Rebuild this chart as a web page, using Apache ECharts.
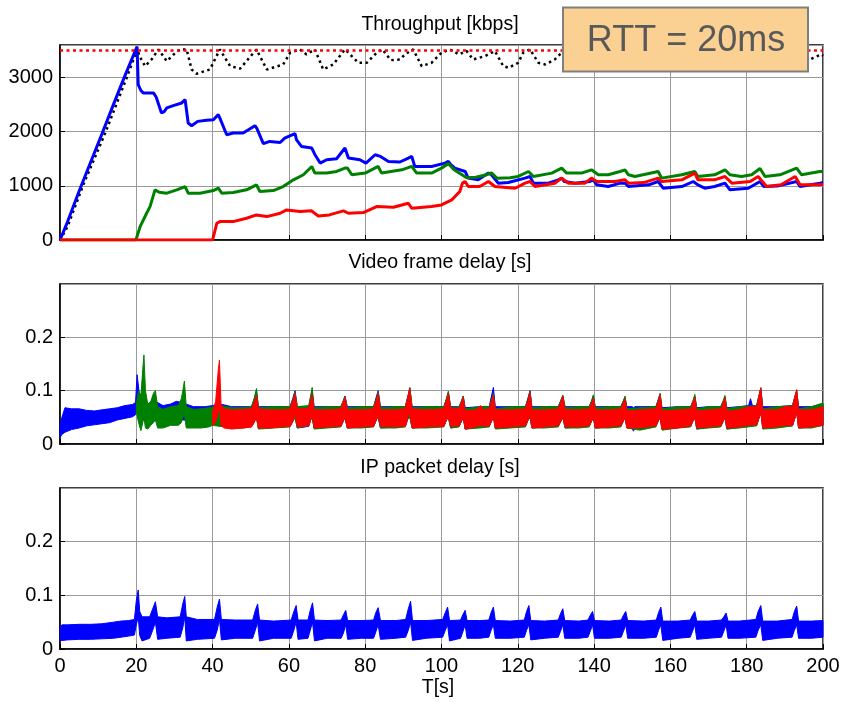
<!DOCTYPE html>
<html>
<head>
<meta charset="utf-8">
<script src="https://cdn.jsdelivr.net/npm/echarts@6/dist/echarts.min.js"></script>
<style>html,body{margin:0;padding:0;background:#fff}#c{width:843px;height:702px}</style>
</head>
<body>
<div id="c"></div>
<script>
// ---------- Throughput [kbps]: [t, value] ----------
const tpBlue = [[0,0],[2,340],[5,900],[8,1430],[11,1960],[14,2500],[17,3030],[20.2,3570],
[20.5,2870],[21.2,2760],[21.8,2716],[24.5,2716],[25.2,2640],[26.6,2346],[27.3,2370],[28,2438],[29.7,2480],[31.9,2530],[32.8,2590],[33.6,2160],[34.5,2110],[36.1,2190],[38.4,2210],[40.2,2220],[41.5,2315],[41.9,2250],[43.7,1944],[45.4,1975],[48,1975],[51.1,2110],[51.6,2060],[53.3,1778],[55,1820],[57.7,1800],[58.9,1880],[61.6,1963],[62,1850],[63.3,1728],[66,1698],[66.8,1580],[68.2,1420],[69.9,1481],[72.5,1500],[74.7,1698],[75.6,1512],[78.6,1481],[80.2,1420],[82.6,1574],[84,1543],[86.1,1450],[89.1,1440],[91.3,1512],[92.2,1543],[93,1358],[97.4,1358],[100.9,1420],[101.8,1450],[102.3,1400],[103.5,1327],[106.2,1265],[107,1142],[109.6,1111],[112.3,1235],[113.1,1204],[114.9,1049],[117.5,1062],[121.9,1142],[123.2,1173],[124.1,1049],[128,1049],[130.6,1111],[131.5,1142],[132.2,1080],[135,1049],[138.9,1080],[139.8,1111],[140.7,1018],[143.7,987],[146.8,1049],[148.1,1049],[149,987],[154.3,1018],[156.8,1080],[158.1,956],[163,987],[166,1080],[167.2,1018],[169,956],[171.6,987],[174.3,1049],[175.6,926],[180.4,956],[183.5,1080],[184.5,987],[188,995],[193.1,1080],[194,987],[199.2,1049],[200,1060]];
const tpGreen = [[0,0],[19.9,0],[21,247],[22.7,494],[23.6,617],[24.9,926],[26,880],[28,864],[30.6,926],[32.8,987],[33.6,864],[36.7,864],[40.2,913],[41.5,956],[42.4,864],[45.4,876],[48.9,926],[51.5,1018],[52.4,895],[55.9,913],[58.5,987],[61.2,1111],[63.8,1204],[66,1358],[66.8,1235],[69.9,1235],[72.5,1265],[74.7,1327],[75.3,1330],[76.5,1204],[80,1235],[83.4,1358],[84.3,1235],[89.6,1296],[92.2,1358],[93.5,1235],[97.4,1235],[100,1327],[101.8,1410],[103.3,1296],[106.6,1150],[109,1160],[111.8,1204],[113.1,1240],[114.5,1142],[118,1150],[120.1,1173],[122.8,1265],[124.1,1173],[128.9,1235],[131.5,1327],[132.8,1235],[136.7,1235],[139.3,1296],[141.1,1204],[143.7,1204],[146.8,1265],[148.1,1296],[149,1204],[150.7,1173],[156.8,1265],[157.7,1142],[163,1204],[166.4,1265],[167.2,1173],[171.6,1204],[174.3,1296],[175.6,1204],[178.6,1173],[181.3,1204],[183.5,1320],[184.8,1173],[188.7,1204],[193.1,1327],[194.4,1204],[199.2,1265],[200,1265]];
const tpRed = [[0,0],[40,0],[41.1,309],[41.9,340],[45.4,340],[48.9,401],[51.5,463],[54.2,432],[57.7,494],[59.4,555],[62.9,525],[65.9,540],[67.7,444],[70.6,463],[74.3,537],[75.6,494],[79.5,506],[83,617],[87.4,605],[91.3,679],[92.2,586],[97.4,617],[100,648],[102.7,741],[104.8,895],[105.5,1050],[106.2,1080],[107,987],[110,987],[112.3,1080],[114,987],[119.3,956],[121.9,1049],[123.2,1080],[124.5,987],[129.7,1049],[131.5,1142],[133.3,1049],[137.6,1049],[139.3,1142],[140.7,1080],[145.5,1080],[148.1,1111],[149,1049],[153,1060],[156.8,1142],[157.7,1080],[163,1111],[166.4,1235],[167.2,1111],[171.6,1111],[174.3,1173],[176.1,1049],[180.9,1080],[183,1173],[185.2,987],[189,1020],[192.7,1173],[194,1018],[199.2,1018],[200,1030]];
const tpTotal = [[0,0],[2,250],[6,1000],[12,2000],[17.5,3000],[20.3,3530],[20.8,3400],[22.3,3210],[24,3333],[25.8,3518],[28,3302],[29.8,3426],[31.5,3518],[33.2,3518],[34.5,3148],[35.8,3070],[39.3,3148],[41.9,3518],[44.6,3210],[47.2,3164],[51.5,3518],[54.2,3148],[58.5,3240],[60.3,3457],[62.9,3518],[64.6,3426],[66.8,3518],[69,3148],[71.6,3240],[74.7,3518],[76.9,3364],[78.2,3272],[80.4,3272],[83,3457],[84.5,3518],[86.7,3320],[89.1,3333],[90.4,3426],[92.6,3518],[94.8,3210],[97.4,3272],[100,3457],[102.2,3518],[104.6,3426],[106.6,3488],[108.3,3333],[111.4,3395],[114,3488],[116.2,3210],[117.6,3179],[120.1,3272],[121.4,3457],[123.2,3518],[125.4,3272],[127.2,3240],[129.7,3333],[131.5,3457],[133,3500],[136,3300],[140,3420],[142,3500],[145,3300],[149,3480],[152,3320],[157,3500],[160,3300],[166,3500],[169,3280],[174,3480],[177,3300],[183,3500],[186,3300],[193,3500],[195.5,3300],[197.5,3364],[199.6,3426],[200,3400]];
const capacity = [[0,3500],[200,3500]];

// ---------- Video frame delay [s]: [t, low, high] envelope ----------
const vfBlue = [[0,0.012,0.035],[0.5,0.018,0.05],[1.3,0.022,0.068],[3,0.027,0.066],[5,0.03,0.066],[7,0.034,0.063],[9,0.036,0.062],[11,0.038,0.064],[13,0.04,0.066],[15,0.045,0.068],[17,0.048,0.072],[19,0.051,0.074],[19.8,0.055,0.078],[20.2,0.07,0.13],[20.7,0.05,0.1],[21.5,0.045,0.08],[23,0.045,0.075],[25,0.05,0.08],[27,0.045,0.072],[29,0.045,0.075],[30.5,0.05,0.08],[32,0.045,0.078],[33,0.045,0.075],[35,0.04,0.07],[38,0.04,0.07],[40,0.04,0.072],[42,0.035,0.075],[45,0.032,0.07],[48,0.032,0.07],[50.2,0.033,0.07],[50.9,0.042,0.085],[51.5,0.05,0.1],[52,0.03,0.07],[56,0.032,0.07],[60.3,0.033,0.07],[61,0.042,0.085],[61.6,0.05,0.1],[62.2,0.03,0.07],[65.2,0.033,0.07],[65.7,0.045,0.088],[66.1,0.05,0.1],[66.6,0.03,0.07],[70,0.032,0.07],[73.6,0.033,0.07],[74.2,0.042,0.08],[74.7,0.05,0.09],[75.3,0.03,0.07],[79,0.032,0.07],[82.2,0.033,0.07],[82.9,0.045,0.088],[83.4,0.05,0.1],[84,0.03,0.07],[88,0.032,0.07],[90.5,0.033,0.07],[91.2,0.048,0.09],[91.7,0.05,0.105],[92.3,0.03,0.07],[96,0.032,0.07],[100.6,0.033,0.07],[101.3,0.045,0.085],[101.8,0.05,0.097],[102.4,0.03,0.07],[104.6,0.033,0.07],[105.2,0.042,0.08],[105.7,0.05,0.09],[106.2,0.028,0.068],[110,0.032,0.07],[112.5,0.033,0.07],[113.1,0.045,0.09],[113.6,0.06,0.106],[114.1,0.03,0.07],[118,0.032,0.07],[122,0.033,0.07],[122.7,0.045,0.087],[123.2,0.05,0.1],[123.7,0.03,0.07],[127,0.032,0.07],[130.6,0.033,0.07],[131.3,0.043,0.082],[131.8,0.05,0.09],[132.4,0.03,0.07],[136,0.032,0.07],[138.7,0.033,0.07],[139.3,0.042,0.08],[139.8,0.05,0.09],[140.3,0.03,0.07],[144,0.032,0.07],[147,0.033,0.07],[147.6,0.042,0.08],[148.1,0.05,0.087],[148.6,0.03,0.07],[150,0.03,0.07],[150.3,0.024,0.068],[150.7,0.03,0.07],[156.2,0.033,0.07],[156.8,0.043,0.083],[157.3,0.05,0.094],[157.8,0.028,0.068],[162,0.032,0.07],[165.3,0.033,0.07],[165.9,0.043,0.08],[166.4,0.05,0.09],[166.9,0.028,0.068],[170,0.032,0.07],[173.2,0.033,0.07],[173.8,0.042,0.08],[174.3,0.05,0.088],[174.8,0.028,0.068],[178,0.032,0.07],[180.5,0.035,0.072],[181,0.04,0.085],[181.5,0.035,0.072],[182.6,0.035,0.072],[183.2,0.048,0.09],[183.7,0.06,0.104],[184.2,0.03,0.07],[188,0.032,0.07],[192,0.034,0.072],[192.6,0.048,0.088],[193.1,0.06,0.1],[193.6,0.03,0.07],[197,0.032,0.07],[200,0.035,0.075]];
const vfGreen = [[20,0.06,0.075],[20.6,0.04,0.1],[21.2,0.025,0.09],[21.7,0.04,0.14],[22,0.05,0.167],[22.4,0.03,0.1],[23,0.028,0.075],[23.8,0.035,0.08],[24.5,0.04,0.095],[25,0.045,0.1],[25.6,0.03,0.07],[27,0.03,0.065],[29,0.035,0.07],[31,0.035,0.072],[31.8,0.04,0.085],[32.2,0.05,0.1],[32.6,0.055,0.118],[33.1,0.03,0.07],[35,0.03,0.065],[37,0.03,0.066],[39,0.032,0.068],[40,0.035,0.07],[42,0.033,0.072],[45,0.03,0.068],[48,0.03,0.068],[50.2,0.032,0.07],[50.9,0.042,0.085],[51.5,0.05,0.104],[52,0.028,0.068],[56,0.03,0.07],[60.3,0.032,0.07],[61,0.042,0.082],[61.6,0.05,0.098],[62.2,0.03,0.07],[65.2,0.034,0.072],[65.7,0.045,0.09],[66.1,0.05,0.106],[66.6,0.028,0.068],[70,0.03,0.07],[73.6,0.032,0.07],[74.2,0.042,0.08],[74.7,0.05,0.09],[75.3,0.03,0.068],[79,0.03,0.07],[82.2,0.032,0.07],[82.9,0.045,0.085],[83.4,0.05,0.098],[84,0.03,0.068],[88,0.03,0.07],[90.5,0.032,0.07],[91.2,0.048,0.09],[91.7,0.05,0.106],[92.3,0.03,0.068],[96,0.03,0.07],[100.6,0.032,0.07],[101.3,0.045,0.085],[101.8,0.05,0.099],[102.4,0.03,0.068],[104.6,0.032,0.07],[105.2,0.042,0.08],[105.7,0.05,0.09],[106.2,0.028,0.066],[110,0.03,0.07],[112.5,0.032,0.07],[113.1,0.042,0.082],[113.6,0.05,0.095],[114.1,0.028,0.066],[118,0.03,0.07],[122,0.032,0.07],[122.7,0.045,0.085],[123.2,0.05,0.099],[123.7,0.03,0.068],[127,0.03,0.07],[130.6,0.032,0.07],[131.3,0.043,0.082],[131.8,0.05,0.092],[132.4,0.03,0.068],[136,0.03,0.07],[138.7,0.032,0.07],[139.3,0.042,0.08],[139.8,0.05,0.092],[140.3,0.03,0.068],[144,0.03,0.07],[147,0.032,0.07],[147.6,0.042,0.08],[148.1,0.05,0.09],[148.6,0.03,0.066],[152,0.026,0.068],[156.2,0.032,0.07],[156.8,0.043,0.082],[157.3,0.05,0.095],[157.8,0.026,0.066],[162,0.03,0.07],[165.3,0.032,0.07],[165.9,0.043,0.08],[166.4,0.05,0.093],[166.9,0.028,0.066],[170,0.03,0.07],[173.2,0.032,0.07],[173.8,0.042,0.08],[174.3,0.05,0.091],[174.8,0.028,0.066],[178,0.03,0.07],[182.6,0.034,0.072],[183.2,0.048,0.09],[183.7,0.06,0.105],[184.2,0.028,0.066],[188,0.03,0.07],[192,0.034,0.072],[192.6,0.048,0.088],[193.1,0.06,0.1],[193.6,0.03,0.066],[197,0.03,0.07],[200,0.035,0.077]];
const vfRed = [[40,0.035,0.06],[40.8,0.04,0.08],[41.5,0.06,0.14],[41.8,0.07,0.157],[42.2,0.035,0.075],[43,0.03,0.066],[45,0.028,0.064],[48,0.03,0.065],[50.2,0.032,0.066],[50.9,0.04,0.078],[51.5,0.05,0.092],[52,0.03,0.066],[55,0.03,0.064],[58,0.032,0.064],[60.3,0.033,0.066],[61,0.042,0.08],[61.6,0.055,0.095],[62.2,0.032,0.066],[64,0.033,0.066],[65.2,0.035,0.068],[65.7,0.045,0.082],[66.1,0.055,0.094],[66.6,0.03,0.064],[70,0.032,0.064],[73.6,0.033,0.066],[74.2,0.042,0.078],[74.7,0.05,0.088],[75.3,0.03,0.064],[79,0.032,0.064],[82.2,0.033,0.066],[82.9,0.045,0.082],[83.4,0.055,0.095],[84,0.033,0.064],[88,0.032,0.064],[90.5,0.033,0.067],[91.2,0.048,0.088],[91.7,0.06,0.104],[92.3,0.03,0.066],[96,0.032,0.064],[100.6,0.033,0.066],[101.3,0.045,0.082],[101.8,0.05,0.095],[102.4,0.033,0.066],[104.6,0.034,0.067],[105.2,0.042,0.078],[105.7,0.05,0.088],[106.2,0.028,0.062],[109,0.032,0.064],[110.3,0.035,0.072],[111,0.033,0.064],[112.5,0.034,0.066],[113.1,0.042,0.08],[113.6,0.05,0.092],[114.1,0.03,0.064],[118,0.032,0.064],[122,0.034,0.066],[122.7,0.045,0.084],[123.2,0.055,0.097],[123.7,0.03,0.064],[127,0.032,0.064],[130.6,0.034,0.066],[131.3,0.043,0.08],[131.8,0.05,0.09],[132.4,0.032,0.064],[136,0.032,0.064],[138.7,0.034,0.066],[139.3,0.042,0.076],[139.8,0.05,0.086],[140.3,0.03,0.064],[144,0.032,0.064],[147,0.034,0.066],[147.6,0.042,0.076],[148.1,0.05,0.085],[148.6,0.03,0.062],[152,0.03,0.064],[156.2,0.034,0.066],[156.8,0.043,0.08],[157.3,0.05,0.093],[157.8,0.028,0.062],[162,0.03,0.064],[165.3,0.034,0.066],[165.9,0.043,0.078],[166.4,0.05,0.088],[166.9,0.03,0.062],[170,0.032,0.064],[173.2,0.034,0.066],[173.8,0.042,0.077],[174.3,0.05,0.087],[174.8,0.03,0.062],[178,0.032,0.064],[180.5,0.035,0.07],[182.6,0.036,0.07],[183.2,0.048,0.09],[183.7,0.06,0.106],[184.2,0.03,0.064],[188,0.032,0.064],[190,0.035,0.07],[192,0.035,0.07],[192.6,0.048,0.088],[193.1,0.06,0.102],[193.6,0.03,0.064],[197,0.032,0.064],[200,0.035,0.07]];

// ---------- IP packet delay [s]: [t, low, high] envelope ----------
const ipBlue = [[0,0.015,0.04],[0.5,0.016,0.045],[2,0.017,0.045],[5,0.018,0.046],[8,0.018,0.046],[11,0.019,0.047],[14,0.02,0.05],[16,0.022,0.052],[18,0.024,0.053],[19.5,0.026,0.055],[20,0.045,0.09],[20.5,0.06,0.11],[20.9,0.025,0.07],[21.5,0.015,0.06],[23.5,0.02,0.06],[24.3,0.035,0.075],[25,0.05,0.088],[25.6,0.018,0.06],[28,0.02,0.058],[31.5,0.022,0.06],[32.2,0.04,0.085],[32.7,0.06,0.098],[33.1,0.015,0.06],[36,0.018,0.055],[40.5,0.02,0.055],[41.2,0.035,0.078],[41.8,0.055,0.093],[42.3,0.017,0.055],[46,0.02,0.054],[50.5,0.02,0.054],[51.2,0.035,0.072],[51.8,0.05,0.084],[52.3,0.015,0.054],[56,0.02,0.052],[60.6,0.02,0.054],[61.3,0.035,0.07],[61.9,0.05,0.081],[62.4,0.018,0.054],[65,0.02,0.054],[65.6,0.035,0.072],[66.2,0.05,0.086],[66.7,0.015,0.054],[70,0.02,0.053],[73.7,0.02,0.054],[74.3,0.03,0.064],[74.9,0.045,0.072],[75.4,0.018,0.053],[79,0.02,0.053],[82.2,0.02,0.054],[82.8,0.032,0.068],[83.4,0.045,0.077],[84,0.018,0.053],[88,0.02,0.053],[90.6,0.022,0.055],[91.3,0.035,0.075],[91.9,0.05,0.089],[92.4,0.016,0.053],[96,0.02,0.053],[100.3,0.022,0.055],[101,0.035,0.068],[101.6,0.045,0.078],[102.1,0.015,0.053],[105,0.02,0.054],[105.6,0.032,0.064],[106.2,0.045,0.072],[106.7,0.02,0.053],[110,0.02,0.053],[112.4,0.022,0.054],[113,0.035,0.068],[113.6,0.045,0.078],[114.1,0.02,0.053],[118,0.02,0.052],[121.7,0.022,0.054],[122.3,0.035,0.07],[122.9,0.045,0.081],[123.4,0.017,0.053],[127,0.02,0.052],[130.6,0.022,0.054],[131.2,0.033,0.066],[131.8,0.045,0.075],[132.3,0.02,0.053],[136,0.02,0.052],[138.4,0.022,0.054],[139,0.033,0.063],[139.6,0.045,0.07],[140.1,0.02,0.053],[144,0.02,0.052],[147.1,0.022,0.054],[147.7,0.033,0.063],[148.3,0.045,0.07],[148.8,0.02,0.053],[153,0.02,0.052],[156.3,0.022,0.054],[156.9,0.035,0.068],[157.5,0.045,0.078],[158,0.016,0.052],[162,0.02,0.052],[165.2,0.022,0.054],[165.8,0.033,0.063],[166.4,0.045,0.07],[166.9,0.018,0.052],[170,0.02,0.052],[173.4,0.022,0.054],[174,0.033,0.06],[174.6,0.045,0.067],[175.1,0.02,0.052],[178,0.02,0.052],[182.4,0.022,0.055],[183,0.035,0.07],[183.7,0.045,0.081],[184.2,0.016,0.052],[188,0.02,0.052],[191.9,0.022,0.055],[192.5,0.035,0.07],[193.1,0.045,0.08],[193.6,0.02,0.052],[197,0.02,0.052],[200,0.022,0.053]];

const panelTitles = ['Throughput [kbps]', 'Video frame delay [s]', 'IP packet delay [s]'];
const xLabel = 'T[s]';
const rttText = 'RTT = 20ms';

const FONT = 'Liberation Sans, Arial, Helvetica, sans-serif';
const BLUE = '#0000ff', GREEN = '#008000', RED = '#ff0000';

const grids = [
  {left: 60, right: 20, top: 45, height: 195},
  {left: 60, right: 20, top: 284, height: 160},
  {left: 60, right: 20, top: 488, height: 161}
].map(g => Object.assign(g, {show: true, borderColor: '#000', borderWidth: 1.5, backgroundColor: '#fff', containLabel: false}));

const xAxes = [0,1,2].map(i => ({
  gridIndex: i, type: 'value', min: 0, max: 200, interval: 20,
  axisLine: {show: true, onZero: false, lineStyle: {color: '#000', width: 1.5}},
  axisTick: {show: true, inside: true, length: 5, lineStyle: {color: '#000'}},
  axisLabel: {show: i === 2, color: '#000', fontSize: 20, fontFamily: FONT, margin: 7},
  splitLine: {show: true, lineStyle: {color: '#9a9a9a', width: 1}}
}));

const yAxes = [
  {gridIndex: 0, min: 0, max: 3600, interval: 1000,
   fmt: v => (v % 1000 === 0 ? String(v) : '')},
  {gridIndex: 1, min: 0, max: 0.3, interval: 0.1,
   fmt: v => (v > 0.25 ? '' : (v === 0 ? '0' : v.toFixed(1)))},
  {gridIndex: 2, min: 0, max: 0.3, interval: 0.1,
   fmt: v => (v > 0.25 ? '' : (v === 0 ? '0' : v.toFixed(1)))}
].map(a => ({
  gridIndex: a.gridIndex, type: 'value', min: a.min, max: a.max, interval: a.interval,
  axisLine: {show: true, onZero: false, lineStyle: {color: '#000', width: 1.5}},
  axisTick: {show: true, inside: true, length: 5, lineStyle: {color: '#000'}},
  axisLabel: {show: true, color: '#000', fontSize: 20, fontFamily: FONT, margin: 7, formatter: a.fmt,
              showMaxLabel: false},
  splitLine: {show: true, lineStyle: {color: '#9a9a9a', width: 1}}
}));

function lineSeries(g, data, color, width, type) {
  return {type: 'line', xAxisIndex: g, yAxisIndex: g, data: data, symbol: 'none',
          lineStyle: {color: color, width: width, type: type || 'solid'}, silent: true, animation: false};
}
// Band (min..max envelope of a noisy delay trace) drawn as one polygon through the axes' scales.
function bandSeries(g, arr, color) {
  return {
    type: 'custom', xAxisIndex: g, yAxisIndex: g, silent: true, animation: false,
    data: arr, encode: {x: 0, y: [1, 2]},
    renderItem: function (params, api) {
      if (params.dataIndex !== 0) return null;
      const top = arr.map(d => api.coord([d[0], d[2]]));
      const bot = arr.map(d => api.coord([d[0], d[1]])).reverse();
      return {type: 'polygon', shape: {points: top.concat(bot)},
              style: {fill: color, stroke: color, lineWidth: 1}};
    }
  };
}

const series = [
  lineSeries(0, tpTotal, '#000', 2.5, [2.5, 3.5]),
  lineSeries(0, tpBlue, BLUE, 3),
  lineSeries(0, tpGreen, GREEN, 3),
  lineSeries(0, tpRed, RED, 3),
  lineSeries(0, capacity, RED, 2.5, [3, 3.5]),
  bandSeries(1, vfBlue, BLUE),
  bandSeries(1, vfGreen, GREEN),
  bandSeries(1, vfRed, RED),
  bandSeries(2, ipBlue, BLUE)
];

const txt = (x, y, s, size, color) => ({type: 'text', x: x, y: y, z: 100,
  style: {text: s, fontSize: size, fontFamily: FONT, fill: color || '#000', align: 'center', verticalAlign: 'middle'}});

const option = {
  animation: false,
  backgroundColor: '#fff',
  grid: grids, xAxis: xAxes, yAxis: yAxes, series: series,
  graphic: [
    txt(440, 25, panelTitles[0], 19.5),
    txt(440, 263, panelTitles[1], 19.5),
    txt(440, 468, panelTitles[2], 19.5),
    txt(438, 688, xLabel, 19.5),
    {type: 'rect', z: 100, shape: {x: 563, y: 7.5, width: 245, height: 64},
     style: {fill: '#FBD193', stroke: '#7f7f7f', lineWidth: 2}},
    txt(686, 41, rttText, 36, '#595959')
  ]
};

const chart = echarts.init(document.getElementById('c'), null, {renderer: 'canvas'});
chart.setOption(option);
</script>
</body>
</html>
